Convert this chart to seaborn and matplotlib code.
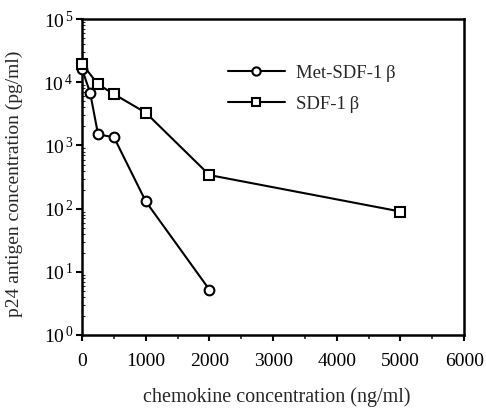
import numpy as np
import pandas as pd
import matplotlib
matplotlib.use("Agg")
import matplotlib.pyplot as plt
import seaborn as sns
from matplotlib.ticker import LogLocator, FuncFormatter, MultipleLocator, NullFormatter

# values
met_x = [0, 125, 250, 500, 1000, 2000]
met_y = [16000, 6900, 1500, 1350, 130, 5.2]
sdf_x = [0, 250, 500, 1000, 2000, 5000]
sdf_y = [19500, 9300, 6500, 3300, 340, 90]
labels = ["Met-SDF-1\u2009\u03b2", "SDF-1\u2009\u03b2"]

sns.set_style("ticks")
plt.rcParams["font.family"] = ["Liberation Serif", "DejaVu Serif"]
plt.rcParams["mathtext.fontset"] = "custom"
plt.rcParams["mathtext.rm"] = "Liberation Serif"

met = pd.DataFrame({"x": met_x, "y": met_y})
sdf = pd.DataFrame({"x": sdf_x, "y": sdf_y})

fig = plt.figure(figsize=(4.86, 4.08), dpi=100)
ax = fig.add_axes([0.169, 0.179, 0.786, 0.774])

style = dict(color="black", linewidth=1.5, markersize=7, markerfacecolor="white",
             markeredgecolor="black", markeredgewidth=1.5, clip_on=False, zorder=5)
sns.lineplot(data=met, x="x", y="y", marker="o", label=labels[0], ax=ax, **style)
sns.lineplot(data=sdf, x="x", y="y", marker="s", label=labels[1], ax=ax, **style)

ax.set_yscale("log")
ax.set_ylim(1, 1e5)
ax.set_xlim(0, 6000)
ax.xaxis.set_major_locator(MultipleLocator(1000))
ax.xaxis.set_minor_locator(MultipleLocator(500))
ax.yaxis.set_major_locator(LogLocator(base=10, numticks=10))
ax.yaxis.set_minor_locator(LogLocator(base=10, subs=np.arange(2, 10), numticks=10))
ax.yaxis.set_major_formatter(FuncFormatter(lambda v, p: r"$\mathregular{10^{\,%d}}$" % round(np.log10(v))))
ax.yaxis.set_minor_formatter(NullFormatter())

for s in ax.spines.values():
    s.set_linewidth(1.8)
    s.set_color("black")
ax.tick_params(axis="both", which="major", direction="out", length=4, width=1.5,
               labelsize=14, colors="black")
ax.tick_params(axis="x", which="minor", direction="out", length=3, width=1.2)
ax.tick_params(axis="y", which="minor", direction="in", length=2, width=0.8)
ax.tick_params(axis="x", which="major", pad=9)
ax.tick_params(axis="y", which="major", pad=2)

ax.set_xlabel("chemokine concentration (ng/ml)", fontsize=14.5)
ax.set_ylabel("p24 antigen concentration (pg/ml)", fontsize=14)
ax.xaxis.set_label_coords(0.51, -0.165)
ax.yaxis.set_label_coords(-0.155, 0.48)

leg = ax.legend(loc="upper left", bbox_to_anchor=(0.363, 0.88), frameon=False,
                fontsize=13.5, handlelength=3.0, markerscale=0.85,
                handletextpad=0.6, labelspacing=0.75, borderaxespad=0)

fig.savefig("out.png", dpi=100)
